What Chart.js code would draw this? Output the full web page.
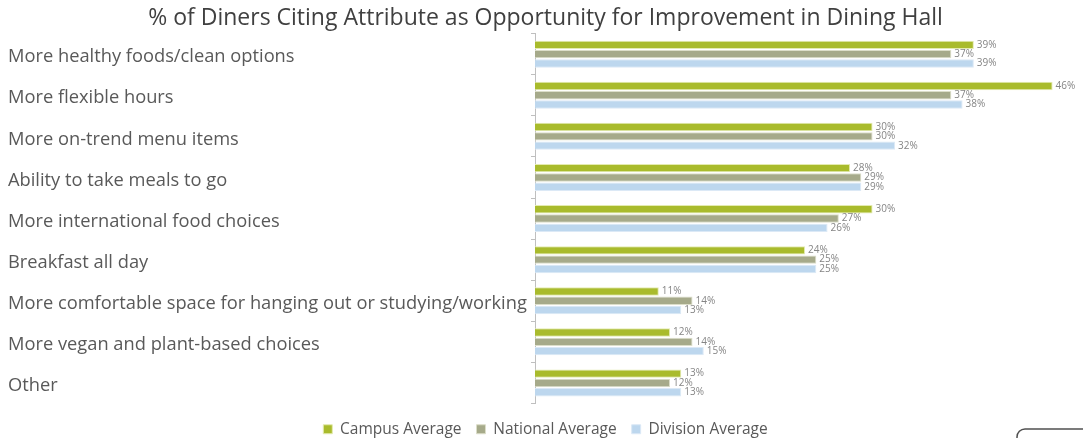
<!DOCTYPE html>
<html>
<head>
<meta charset="utf-8">
<script src="https://cdn.jsdelivr.net/npm/chart.js@4"></script>
<style>
  html, body { margin: 0; padding: 0; background: #fff; }
  #wrap { width: 1083px; height: 438px; position: relative; overflow: hidden; }
</style>
</head>
<body>
<div id="wrap"><canvas id="diningChart"></canvas></div>
<script>
var categories = [
  'More healthy foods/clean options',
  'More flexible hours',
  'More on-trend menu items',
  'Ability to take meals to go',
  'More international food choices',
  'Breakfast all day',
  'More comfortable space for hanging out or studying/working',
  'More vegan and plant-based choices',
  'Other'
];
var campusAvg   = [39, 46, 30, 28, 30, 24, 11, 12, 13];
var nationalAvg = [37, 37, 30, 29, 27, 25, 14, 14, 12];
var divisionAvg = [39, 38, 32, 29, 26, 25, 13, 15, 13];

// small % labels at the end of each bar
var barLabels = {
  id: 'barLabels',
  afterDatasetsDraw: function(chart) {
    var ctx = chart.ctx;
    ctx.save();
    ctx.font = '10px "Open Sans"';
    ctx.fillStyle = '#858585';
    ctx.textBaseline = 'middle';
    chart.data.datasets.forEach(function(ds, i) {
      var meta = chart.getDatasetMeta(i);
      meta.data.forEach(function(bar, j) {
        ctx.fillText(ds.data[j] + '%', bar.x + 3, bar.y);
      });
    });
    ctx.restore();
  }
};

// corner of the shape that peeks in at the bottom right
var cornerShape = {
  id: 'cornerShape',
  afterDraw: function(chart) {
    var ctx = chart.ctx;
    ctx.save();
    ctx.strokeStyle = '#505050';
    ctx.lineWidth = 1.5;
    ctx.beginPath();
    ctx.moveTo(1017, 445);
    ctx.lineTo(1017, 437);
    ctx.arcTo(1017, 429, 1027, 429, 8);
    ctx.lineTo(1090, 429);
    ctx.stroke();
    ctx.restore();
  }
};

var diningChart = new Chart(document.getElementById('diningChart').getContext('2d'), {
  type: 'bar',
  data: {
    labels: categories,
    datasets: [{
      label: 'Campus Average',
      data: campusAvg,
      backgroundColor: '#a9bb2c',
      borderColor: '#e4ebb0',
      borderWidth: 1
    }, {
      label: 'National Average',
      data: nationalAvg,
      backgroundColor: '#a6aa8a',
      borderColor: '#dcdec9',
      borderWidth: 1
    }, {
      label: 'Division Average',
      data: divisionAvg,
      backgroundColor: '#bdd7ee',
      borderColor: '#dce9f6',
      borderWidth: 1
    }]
  },
  options: {
    indexAxis: 'y',
    responsive: true,
    maintainAspectRatio: false,
    animation: false,
    categoryPercentage: 0.68,
    barPercentage: 0.9,
    layout: { padding: { left: 8, right: 0, top: 0, bottom: -9 } },
    plugins: {
      title: {
        display: true,
        text: '% of Diners Citing Attribute as Opportunity for Improvement in Dining Hall',
        color: '#404040',
        font: { family: 'Open Sans', size: 23, weight: 'normal' },
        padding: { top: 5, bottom: 1 }
      },
      legend: {
        position: 'bottom',
        labels: {
          color: '#595959',
          font: { family: 'Open Sans', size: 15.5 },
          boxWidth: 9,
          boxHeight: 9,
          padding: 15
        }
      },
      tooltip: { enabled: false }
    },
    scales: {
      x: {
        display: true,
        min: 0,
        max: 48.7,
        afterFit: function(scale) { scale.height = 3; },
        border: { display: false },
        grid: { display: false },
        ticks: { display: false }
      },
      y: {
        afterFit: function(scale) { scale.width = 527; },
        border: { display: true, color: '#bfbfbf' },
        grid: {
          offset: true,
          drawOnChartArea: false,
          drawTicks: true,
          tickLength: 4,
          color: '#bfbfbf'
        },
        ticks: {
          crossAlign: 'far',
          labelOffset: 3,
          color: '#595959',
          font: { family: 'Open Sans', size: 18.3 }
        }
      }
    }
  },
  plugins: [barLabels, cornerShape]
});
</script>
</body>
</html>
